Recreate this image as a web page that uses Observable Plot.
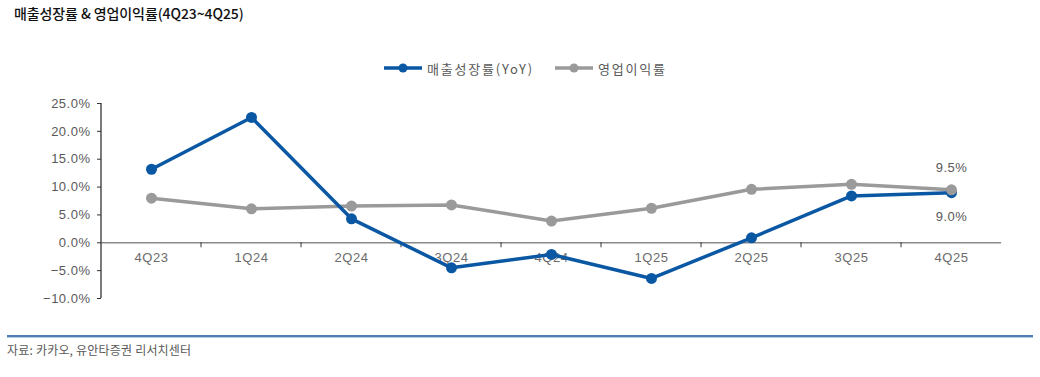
<!DOCTYPE html>
<html><head><meta charset="utf-8">
<script src="https://cdn.jsdelivr.net/npm/d3@7"></script>
<script src="https://cdn.jsdelivr.net/npm/@observablehq/plot@0.6"></script>
<style>
body{margin:0;width:1040px;height:377px;overflow:hidden;background:#fff;position:relative;font-family:"Noto Sans CJK KR","Noto Sans",sans-serif}
#title{position:absolute;left:14px;top:3px;font-size:14px;font-weight:500;color:#111;white-space:nowrap;letter-spacing:-0.1px}
#legend{position:absolute;left:383px;top:58px;height:20px;display:flex;align-items:center;font-size:13px;color:#595959;letter-spacing:1.8px;white-space:nowrap}
.item{display:flex;align-items:center;margin-right:20px}
.item svg{margin-right:4px}
#chart{position:absolute;left:0;top:85px}
#rule{position:absolute;left:7px;top:335px;width:1026px;height:2px;background:#4f7db3;border-bottom:1px solid #b9cde4}
#caption{position:absolute;left:7px;top:341px;font-size:12px;color:#595959;white-space:nowrap;letter-spacing:0.2px}
</style></head><body>
<div id="title"></div>
<div id="legend"></div>
<div id="chart"></div>
<div id="rule"></div>
<div id="caption"></div>
<script>
const titleText = "매출성장률 & 영업이익률(4Q23~4Q25)";
const captionText = "자료: 카카오, 유안타증권 리서치센터";
const quarters = ["4Q23","1Q24","2Q24","3Q24","4Q24","1Q25","2Q25","3Q25","4Q25"];
const revenueGrowth = [13.2, 22.5, 4.3, -4.5, -2.1, -6.4, 0.9, 8.4, 9.0];
const opMargin = [8.0, 6.1, 6.6, 6.8, 3.9, 6.2, 9.6, 10.5, 9.5];
const seriesNames = ["매출성장률(YoY)", "영업이익률"];
const seriesColors = ["#0a57a4", "#9a9a9a"];
const yTicks = [-10, -5, 0, 5, 10, 15, 20, 25];

document.getElementById("title").textContent = titleText;
document.getElementById("caption").textContent = captionText;

const legend = document.getElementById("legend");
seriesNames.forEach((name, i) => {
  const item = document.createElement("div");
  item.className = "item";
  item.innerHTML = `<svg width="40" height="12"><line x1="1" x2="39" y1="6" y2="6" stroke="${seriesColors[i]}" stroke-width="3.5"/><circle cx="20" cy="6" r="4.5" fill="${seriesColors[i]}"/></svg><span>${name}</span>`;
  legend.appendChild(item);
});

const rev = quarters.map((q, i) => ({q, v: revenueGrowth[i]}));
const opm = quarters.map((q, i) => ({q, v: opMargin[i]}));
const fmt = d => (d < 0 ? "\u2212" + Math.abs(d).toFixed(1) : d.toFixed(1)) + "%";

function axisDecor(index, scales, values, dimensions) {
  const g = d3.create("svg:g");
  const x = scales.x, y = scales.y;
  const y0 = y(0);
  g.append("line").attr("x1", dimensions.marginLeft).attr("x2", dimensions.marginLeft)
    .attr("y1", y(yTicks[yTicks.length - 1])).attr("y2", y(yTicks[0]))
    .attr("stroke", "#333").attr("stroke-width", 1.3);
  for (let i = 1; i < quarters.length; i++) {
    const xm = (x(quarters[i - 1]) + x(quarters[i])) / 2;
    g.append("line").attr("x1", xm).attr("x2", xm).attr("y1", y0).attr("y2", y0 + 5)
      .attr("stroke", "#333").attr("stroke-width", 1);
  }
  return g.node();
}

const lastRev = [rev[rev.length - 1]];
const lastOpm = [opm[opm.length - 1]];

const chart = Plot.plot({
  width: 1040,
  height: 240,
  marginTop: 18,
  marginBottom: 27,
  marginLeft: 101,
  marginRight: 39,
  style: {fontFamily: "'Liberation Sans','Noto Sans CJK KR',sans-serif", fontSize: "13px", background: "transparent", letterSpacing: "0.5px"},
  x: {type: "point", domain: quarters, padding: 0.5, axis: null},
  y: {domain: [-10, 25], axis: null},
  marks: [
    Plot.ruleY([0], {stroke: "#8a8a8a", strokeWidth: 1.6}),
    axisDecor,
    Plot.axisY({ticks: yTicks, tickFormat: fmt, tickSize: 4, tickPadding: 7, stroke: "#333", fill: "#595959", fontSize: 13, anchor: "left", label: null}),
    Plot.text(quarters, {x: d => d, y: () => 0, dy: 15, text: d => d, fill: "#6b6b6b", fontSize: 13, lineAnchor: "middle"}),
    Plot.line(opm, {x: "q", y: "v", stroke: seriesColors[1], strokeWidth: 3.5}),
    Plot.line(rev, {x: "q", y: "v", stroke: seriesColors[0], strokeWidth: 3.5}),
    Plot.dot(rev, {x: "q", y: "v", fill: seriesColors[0], r: 5.5}),
    Plot.dot(opm, {x: "q", y: "v", fill: seriesColors[1], r: 5.5}),
    Plot.text(lastOpm, {x: "q", y: "v", text: d => d.v.toFixed(1) + "%", dy: -22, fill: "#595959", fontSize: 13}),
    Plot.text(lastRev, {x: "q", y: "v", text: d => d.v.toFixed(1) + "%", dy: 24, fill: "#595959", fontSize: 13})
  ]
});
document.getElementById("chart").appendChild(chart);
</script>
</body></html>
